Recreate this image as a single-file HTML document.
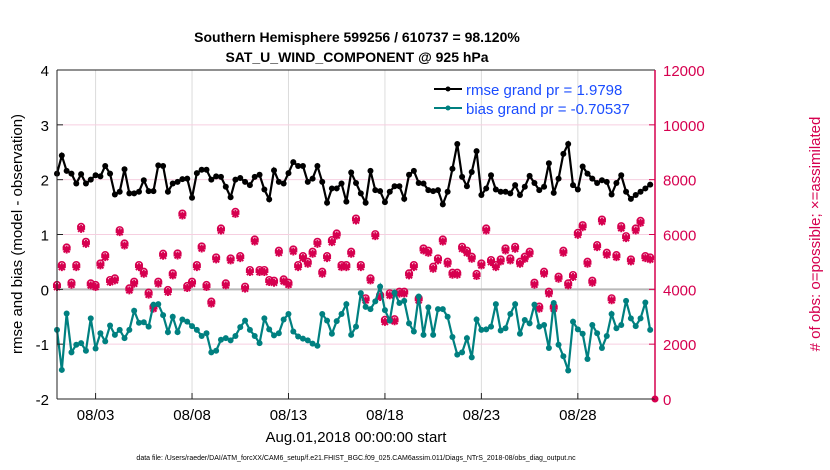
<!DOCTYPE html>
<html><head><meta charset="utf-8"><style>
body{margin:0;background:#fff;}
svg{display:block;font-family:"Liberation Sans",Arial,sans-serif;}
</style></head><body>
<svg id="chart" width="830" height="470" viewBox="0 0 830 470">
<text x="357" y="42" text-anchor="middle" font-size="14" font-weight="bold">Southern Hemisphere 599256 / 610737 = 98.120%</text>
<text x="357" y="62" text-anchor="middle" font-size="14" font-weight="bold">SAT_U_WIND_COMPONENT @ 925 hPa</text>
<g id="grid"></g>
<g id="obsg"></g>
<g id="rmseg"></g>
<g id="biasg"></g>
<g id="axes"></g>
<text transform="translate(22,234) rotate(-90)" text-anchor="middle" font-size="15">rmse and bias (model - observation)</text>
<text transform="translate(820,234) rotate(-90)" text-anchor="middle" font-size="15" fill="#d6004f"># of obs: o=possible; ×=assimilated</text>
<text x="356" y="442" text-anchor="middle" font-size="15">Aug.01,2018 00:00:00 start</text>
<text x="356" y="460" text-anchor="middle" font-size="7">data file: /Users/raeder/DAI/ATM_forcXX/CAM6_setup/f.e21.FHIST_BGC.f09_025.CAM6assim.011/Diags_NTrS_2018-08/obs_diag_output.nc</text>
<g>
<line x1="434" y1="89" x2="462" y2="89" stroke="#000" stroke-width="2"/><circle cx="448" cy="89" r="2.5" fill="#000"/>
<text x="466" y="95" font-size="15" fill="#1a4cff">rmse grand pr = 1.9798</text>
<line x1="434" y1="108" x2="462" y2="108" stroke="#008080" stroke-width="2"/><circle cx="448" cy="108" r="2.5" fill="#008080"/>
<text x="466" y="114" font-size="15" fill="#1a4cff">bias grand pr = -0.70537</text>
</g>
</svg>
<script>
const rmse=[2.11,2.44,2.16,2.11,1.93,2.1,1.93,2.0,2.08,2.06,2.25,2.11,1.73,1.78,2.19,1.75,1.75,1.78,1.99,1.79,1.79,2.26,2.25,1.78,1.93,1.96,2.01,2.02,1.67,2.12,2.18,2.18,
2.0,2.06,2.05,1.87,1.68,2.0,2.03,1.96,1.9,2.05,2.09,1.82,1.64,2.17,1.96,1.93,2.12,2.32,2.25,2.25,1.96,2.02,2.25,1.96,1.58,1.84,1.84,1.93,1.6,2.13,1.94,
1.75,1.58,2.16,1.81,1.79,1.59,1.78,1.88,1.88,1.65,2.09,2.16,1.94,1.93,1.81,1.79,1.81,1.55,1.78,2.2,2.65,2.05,1.88,2.14,2.52,1.72,1.84,2.08,1.82,1.78,1.78,
1.75,1.9,1.72,1.87,2.07,1.94,1.81,1.87,2.3,1.76,2.02,2.47,2.65,1.9,1.82,2.24,2.11,2.02,1.94,1.99,1.96,1.73,1.94,2.08,1.78,1.65,1.72,1.78,1.84,1.91];
const bias=[-0.74,-1.47,-0.44,-1.15,-1.01,-0.98,-1.12,-0.53,-1.08,-0.8,-0.95,-0.66,-0.83,-0.74,-0.89,-0.74,-0.39,-0.61,-0.6,-0.68,-0.28,-0.27,-0.47,-0.78,-0.5,-0.78,-0.55,-0.59,-0.67,-0.74,-0.85,-0.8,
-1.15,-1.12,-0.92,-0.89,-0.93,-0.85,-0.69,-0.57,-0.74,-0.85,-0.98,-0.53,-0.73,-0.84,-0.8,-0.55,-0.45,-0.77,-0.86,-0.9,-0.93,-0.99,-1.03,-0.45,-0.57,-0.81,-0.58,-0.45,-0.27,-0.83,-0.68,
-0.07,-0.32,-0.36,-0.22,0.05,-0.38,-0.57,-0.06,-0.25,-0.21,-0.62,-0.77,-0.13,-0.83,-0.33,-0.83,-0.36,-0.36,-0.5,-0.87,-1.19,-1.15,-0.89,-1.24,-0.55,-0.74,-0.73,-0.68,-0.27,-0.75,-0.71,
-0.45,-0.27,-0.81,-0.56,-0.62,-0.28,-0.68,-0.65,-1.07,-0.25,-1.01,-1.22,-1.48,-0.59,-0.73,-0.81,-1.27,-0.65,-0.8,-1.07,-0.85,-0.45,-0.71,-0.65,-0.21,-0.53,-0.67,-0.53,-0.24,-0.74];
const obs=[4158,4885,5527,4242,4885,6279,5733,4218,4158,4945,5248,4339,4400,6158,5673,4036,4279,4885,4642,3879,3370,4279,5297,3976,4582,5309,6764,4121,4279,4885,5564,4158,
3552,5164,6218,4218,5127,6824,5212,4097,4703,5818,4703,4703,4339,4315,5406,4364,4242,5455,4885,5212,5006,5370,5733,4642,5212,5794,6036,4885,4885,5370,6582,
4885,3673,4400,6012,3794,2885,3855,2909,3915,3915,4582,4885,3673,5491,5406,4824,5127,5818,5006,4606,4606,5551,5406,5188,4558,4945,6218,5067,4885,5091,5491,
5127,5551,5006,5188,5370,4242,3370,4642,3915,3370,4461,5406,4218,4521,6060,6339,5006,4315,5612,6545,5333,3673,5248,6303,5939,5091,6218,6497,5212,5164];
const xTickDays=[2,7,12,17,22,27];
const xTickLabels=["08/03","08/08","08/13","08/18","08/23","08/28"];
const yTicksLeft=[-2,-1,0,1,2,3,4];
const yTicksRight=[0,2000,4000,6000,8000,10000,12000];

const NS="http://www.w3.org/2000/svg";
const L=57,R=655,T=70,B=399;
const xs=d=>L+(R-L)*d/31;
const yl=v=>B-(B-T)*(v+2)/6;
const yr=v=>B-(B-T)*v/12000;
function mk(tag,attrs,parent){const e=document.createElementNS(NS,tag);for(const k in attrs)e.setAttribute(k,attrs[k]);parent.appendChild(e);return e;}
const grid=document.getElementById('grid'),axes=document.getElementById('axes');
mk('rect',{x:L,y:T,width:R-L,height:B-T,fill:'#fff',stroke:'none'},grid);
xTickDays.forEach((d,i)=>{
  const g=mk('line',{x1:xs(d),x2:xs(d),y1:T,y2:B,stroke:'#dcdcdc','stroke-width':1},grid);
  
  
  mk('line',{x1:xs(d),x2:xs(d),y1:B,y2:B-6,stroke:'#222'},axes);
  const t=mk('text',{x:xs(d),y:B+21,'text-anchor':'middle','font-size':15},axes);
  t.textContent=xTickLabels[i];
  
  
});
yTicksRight.forEach(v=>{
  if(v>0&&v<12000){const g=mk('line',{x1:L,x2:R,y1:yr(v),y2:yr(v),stroke:'#f6cfe0','stroke-width':1},grid);
  
  }
  mk('line',{x1:R,x2:R-6,y1:yr(v),y2:yr(v),stroke:'#d6004f'},axes);
  const t=mk('text',{x:R+8,y:yr(v)+6,'font-size':15,fill:'#d6004f'},axes);
  t.textContent=v;
  
  
});
const z=mk('line',{x1:L,x2:R,y1:yl(0),y2:yl(0),stroke:'#b8b8b8','stroke-width':2},grid);


yTicksLeft.forEach(v=>{
  mk('line',{x1:L,x2:L+6,y1:yl(v),y2:yl(v),stroke:'#222'},axes);
  const t=mk('text',{x:L-8,y:yl(v)+6,'text-anchor':'end','font-size':15},axes);
  t.textContent=v;
  
  
});
mk('line',{x1:L,x2:L,y1:T,y2:B,stroke:'#222'},axes);
mk('line',{x1:L,x2:R,y1:B,y2:B,stroke:'#222'},axes);
mk('line',{x1:L,x2:R,y1:T,y2:T,stroke:'#222'},axes);
mk('line',{x1:R,x2:R,y1:T,y2:B,stroke:'#d6004f','stroke-width':1.5},axes);

const day=i=>i*0.25;
// obs markers
const og=document.getElementById('obsg');
obs.forEach((v,i)=>{
  const x=xs(day(i)),y=yr(v);
  const g=mk('g',{},og);
  
  
  mk('circle',{cx:x,cy:y,r:3.3,fill:'none',stroke:'#d6004f','stroke-width':1.6},g);
  mk('path',{d:`M${x-4} ${y+2}h8M${x} ${y-2}v8M${x-3} ${y-1}l6 6M${x+3} ${y-1}l-6 6`,stroke:'#d6004f','stroke-width':2},g);
});
const endPt=mk('circle',{cx:R,cy:yr(0),r:3.5,fill:'#d6004f'},og);


function series(arr,col,gid,name){
  const g=document.getElementById(gid);
  const p=mk('polyline',{points:arr.map((v,i)=>xs(day(i))+','+yl(v)).join(' '),fill:'none',stroke:col,'stroke-width':2.2},g);
  
  
  arr.forEach((v,i)=>{const c=mk('circle',{cx:xs(day(i)),cy:yl(v),r:3,fill:col},g);
    
    });
}
series(rmse,'#000','rmseg','rmse');
series(bias,'#008080','biasg','bias');
</script>
</body></html>
